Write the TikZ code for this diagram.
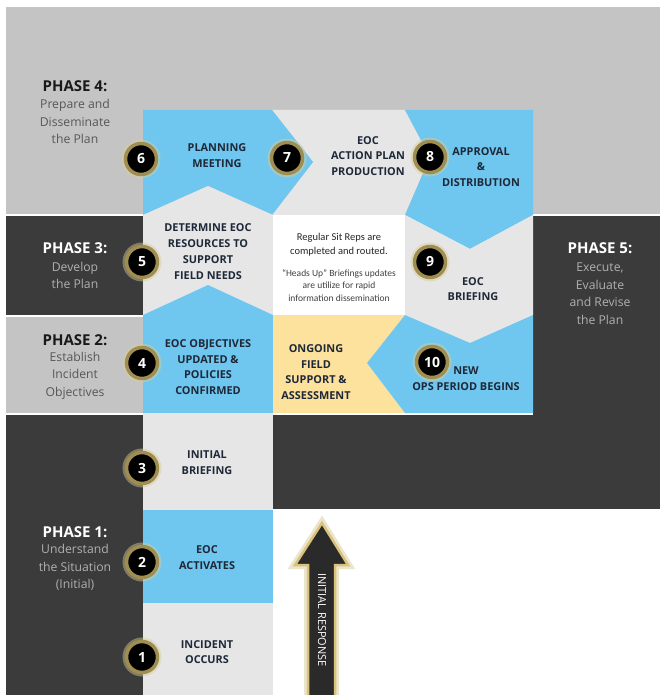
\documentclass[tikz,border=0pt]{standalone}
\usepackage{fontspec}
\setmainfont{Open Sans}
\newfontfamily\carl{Carlito}
\definecolor{bandL}{HTML}{C4C4C4}
\definecolor{bandD}{HTML}{3B3B3B}
\definecolor{cellG}{HTML}{E6E6E6}
\definecolor{cellB}{HTML}{6FC6EE}
\definecolor{yel}{HTML}{FCE29C}
\definecolor{navy}{HTML}{1F2838}
\definecolor{subL}{HTML}{575757}
\definecolor{subD}{HTML}{B0B0B0}
\definecolor{ring}{HTML}{A08E50}
\definecolor{halo}{HTML}{D9CD9A}
\definecolor{arrowfill}{HTML}{2A2A2A}
\definecolor{arrowgold}{HTML}{D9C27A}
\tikzset{
  lbl/.style={font=\fontsize{10.9}{15.8}\selectfont\bfseries, text=navy, align=center, inner sep=0pt},
  phead/.style={font=\fontsize{15}{16}\selectfont\bfseries, inner sep=0pt},
  psub/.style={font=\fontsize{12.2}{17.5}\selectfont, align=center, inner sep=0pt},
  numc/.style={circle, fill=black, minimum size=31pt, inner sep=0pt, text=white,
    font=\fontsize{14}{14}\selectfont\bfseries, draw=ring, line width=3.5pt,
    preaction={draw=halo, line width=8pt, opacity=0.45}},
}
\begin{document}
\begin{tikzpicture}[x=1pt,y=-1pt]
\useasboundingbox (0,0) rectangle (660,695);
\fill[white] (0,0) rectangle (660,695);
% bands
\fill[bandL] (6,7) rectangle (660,214);
\fill[bandD] (6,215.5) rectangle (143,315);
\fill[bandL] (6,316.5) rectangle (143,413);
\fill[bandD] (6,414.5) rectangle (143,695);
\fill[bandD] (533,215.5) rectangle (660,509);
\fill[bandD] (273,414.5) rectangle (660,509);
% cells
\fill[cellG] (272,110)--(405,110)--(430,157)--(405,215)--(272,215)--(313,162)--cycle;
\fill[cellB] (143,110)--(272,110)--(313,162)--(272,215)--(208,186)--(143,215)--cycle;
\fill[cellB] (405,110)--(533,110)--(533,215)--(470,249)--(405,215)--(430,157)--cycle;
\fill[cellG] (143,215)--(208,186)--(273,215)--(273,315)--(208,285)--(143,315)--cycle;
\fill[white] (273,215) rectangle (405,315);
\fill[cellG] (405,215)--(470,249)--(533,215)--(533,315)--(470,343)--(405,315)--cycle;
\fill[cellB] (143,315)--(208,285)--(273,315)--(273,413)--(143,413)--cycle;
\fill[yel] (273,315)--(405,315)--(367,363)--(405,413)--(273,413)--cycle;
\fill[cellB] (405,315)--(470,343)--(533,315)--(533,413)--(405,413)--(367,363)--cycle;
\fill[cellG] (143,413) rectangle (273,510);
\fill[cellB] (143,510) rectangle (273,603);
\fill[cellG] (143,603) rectangle (273,695);
% phase labels
\node[phead, text=black!90] (p4h) at (75,86) {PHASE 4:};
\node[psub, text=subL] (p4s) at (75,121.5) {Prepare and\\Disseminate\\the Plan};
\node[phead, text=white] (p3h) at (75,248) {PHASE 3:};
\node[psub, text=subD] (p3s) at (75,275.5) {Develop\\the Plan};
\node[phead, text=black!90] (p2h) at (75,340) {PHASE 2:};
\node[psub, text=subL] (p2s) at (75,375.5) {Establish\\Incident\\Objectives};
\node[phead, text=white] (p1h) at (75,532) {PHASE 1:};
\node[psub, text=subD] (p1s) at (75,567.5) {Understand\\the Situation\\(Initial)};
\node[phead, text=white] (p5h) at (600,248) {PHASE 5:};
\node[psub, text=subD] (p5s) at (600,293.5) {Execute,\\Evaluate\\and Revise\\the Plan};
% cell labels
\node[lbl] (c6) at (217,155.5) {PLANNING\\MEETING};
\node[lbl] (c7) at (368,156) {EOC\\ACTION PLAN\\PRODUCTION};
\node[lbl] (c8) at (481,167) {APPROVAL\\\&\\DISTRIBUTION};
\node[lbl] (c5) at (208,251.5) {DETERMINE EOC\\RESOURCES TO\\SUPPORT\\FIELD NEEDS};
\node[lbl] (c4) at (208,367) {EOC OBJECTIVES\\UPDATED \&\\POLICIES\\CONFIRMED};
\node[lbl] (cy) at (316,372) {ONGOING\\FIELD\\SUPPORT \&\\ASSESSMENT};
\node[lbl] (c9) at (473,289) {EOC\\BRIEFING};
\node[lbl] (c10) at (466,379) {NEW\\OPS PERIOD BEGINS};
\node[lbl] (c3) at (207,462.5) {INITIAL\\BRIEFING};
\node[lbl] (c2) at (207,557.5) {EOC\\ACTIVATES};
\node[lbl] (c1) at (207,652) {INCIDENT\\OCCURS};
% white box text
\node[font=\carl\fontsize{10.5}{14}\selectfont, text=black!85, align=center, inner sep=0pt] (wb1) at (339,245) {Regular Sit Reps are\\completed and routed.};
\node[font=\carl\fontsize{9.5}{12.5}\selectfont, text=black!75, align=center, inner sep=0pt] (wb2) at (339,285.5) {“Heads Up” Briefings updates\\are utilize for rapid\\information dissemination};
% numbered circles
\node[numc] (n6) at (141,159) {6};
\node[numc] (n7) at (287,158) {7};
\node[numc] (n8) at (430,157) {8};
\node[numc] (n5) at (142,262) {5};
\node[numc] (n9) at (430,262) {9};
\node[numc] (n4) at (142,363) {4};
\node[numc] (n10) at (432,362) {10};
\node[numc] (n3) at (142,468) {3};
\node[numc] (n2) at (142,562) {2};
\node[numc] (n1) at (142,657) {1};
% initial response arrow
\path[fill=arrowfill, draw=arrowgold, line width=2.5pt, line join=miter,
  preaction={draw=halo, line width=8pt, opacity=0.5}]
  (322,523)--(348,565)--(335,565)--(335,700)--(308,700)--(308,565)--(295,565)--cycle;
\node[rotate=-90, text=white, font=\fontsize{11}{11}\selectfont, inner sep=0pt] (ir) at (322,620) {INITIAL RESPONSE};
\end{tikzpicture}
\end{document}
